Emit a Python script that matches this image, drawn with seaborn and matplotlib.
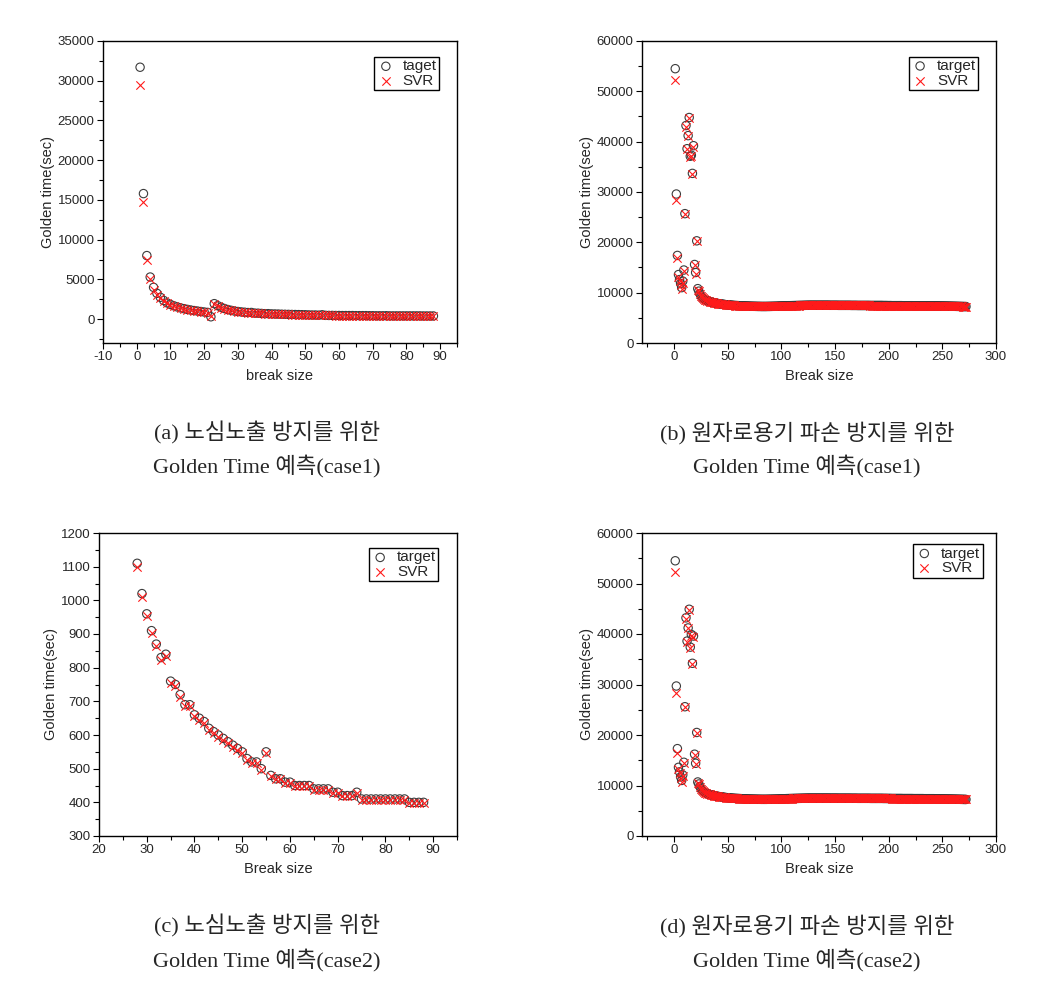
import matplotlib
matplotlib.use("Agg")
import numpy as np
import pandas as pd
import matplotlib.pyplot as plt
import seaborn as sns
from matplotlib.ticker import MultipleLocator

# ---- panel (c): case2, break sizes 28..88 (also the tail of panel (a)) ----
c_break = list(range(28, 89))
c_target = [1110, 1020, 960, 910, 870, 830, 840, 760, 750, 720,
            690, 690, 660, 650, 640, 620, 610, 600, 590, 580,
            570, 560, 550, 530, 520, 520, 500, 550, 480, 470,
            470, 460, 460, 450, 450, 450, 450, 440, 440, 440,
            440, 430, 430, 420, 420, 420, 430, 410, 410, 410,
            410, 410, 410, 410, 410, 410, 410, 400, 400, 400, 400]
c_svr = [1100, 1010, 952, 903, 864, 824, 834, 754, 745, 714,
         685, 685, 655, 645, 635, 615, 605, 595, 585, 575,
         565, 556, 546, 526, 517, 517, 497, 548, 477, 468,
         468, 458, 458, 448, 448, 448, 448, 438, 438, 438,
         438, 428, 428, 418, 418, 418, 428, 408, 408, 408,
         408, 408, 408, 408, 408, 408, 408, 398, 398, 398, 398]

# ---- panel (a): case1, break sizes 1..27, then same points as panel (c) ----
a_break_head = list(range(1, 28))
a_target_head = [31700, 15800, 8000, 5300, 4000, 3250, 2750, 2350, 2050, 1850,
                 1680, 1540, 1420, 1320, 1230, 1150, 1080, 1020, 960, 900,
                 850, 300, 1950, 1700, 1500, 1340, 1210]
a_svr_head = [29500, 14700, 7400, 5000, 3700, 3050, 2600, 2250, 1980, 1780,
              1620, 1490, 1380, 1280, 1190, 1120, 1050, 990, 930, 880,
              830, 420, 1900, 1650, 1460, 1310, 1180]

# ---- panel (b) / (d): reactor vessel, break sizes 1..272 ----
bd_break = list(range(1, 273))
b_target_head = [54500, 29600, 17400, 13600, 12600, 11800, 11000, 12300, 14500, 25700,
                 43200, 38600, 41200, 44800, 37100, 37300, 33700, 39200, 15600, 14000,
                 20300, 10800]
b_svr_head = [52300, 28500, 16800, 13200, 12300, 11500, 10700, 12000, 14300, 25600,
              43000, 38500, 41100, 44700, 37000, 37100, 33600, 39000, 15400, 13800,
              20200, 10600]
d_target_head = [54500, 29700, 17300, 13600, 12700, 11700, 11000, 12100, 14600, 25600,
                 43200, 38600, 41200, 44900, 37400, 39900, 34200, 39600, 16200, 14400,
                 20500, 10700]
d_svr_head = [52300, 28300, 16500, 13200, 12400, 11400, 10700, 11800, 14400, 25500,
              43000, 38500, 41100, 44800, 37300, 39700, 34100, 39400, 16000, 14200,
              20400, 10500]
# break sizes 23..272 -- the dense band, target and SVR coincide at this scale
bd_tail = [10300, 9800, 9350, 9050, 8850, 8680, 8550, 8450, 8370, 8300,
           8230, 8170, 8110, 8060, 8010, 7960, 7920, 7880, 7840, 7800,
           7770, 7740, 7710, 7680, 7650, 7620, 7600, 7580, 7560, 7540,
           7520, 7500, 7480, 7460, 7450, 7440, 7430, 7420, 7410, 7400,
           7390, 7380, 7370, 7360, 7350, 7340, 7330, 7320, 7310, 7300,
           7300, 7290, 7290, 7280, 7280, 7270, 7270, 7270, 7260, 7260,
           7260, 7260, 7260, 7260, 7270, 7270, 7270, 7280, 7280, 7290,
           7290, 7300, 7300, 7310, 7320, 7330, 7340, 7350, 7360, 7370,
           7380, 7390, 7400, 7400, 7410, 7410, 7420, 7420, 7430, 7430,
           7440, 7440, 7450, 7450, 7460, 7460, 7470, 7470, 7480, 7480,
           7490, 7490, 7500, 7500, 7500, 7500, 7500, 7500, 7500, 7500,
           7500, 7500, 7500, 7500, 7500, 7500, 7500, 7500, 7500, 7500,
           7500, 7500, 7490, 7490, 7490, 7490, 7490, 7490, 7490, 7490,
           7480, 7480, 7480, 7480, 7480, 7480, 7480, 7480, 7480, 7480,
           7480, 7480, 7470, 7470, 7470, 7470, 7470, 7470, 7460, 7460,
           7460, 7460, 7460, 7460, 7460, 7460, 7460, 7460, 7460, 7460,
           7450, 7450, 7450, 7450, 7450, 7450, 7450, 7450, 7450, 7450,
           7450, 7450, 7440, 7440, 7440, 7440, 7430, 7430, 7430, 7430,
           7420, 7420, 7420, 7420, 7420, 7420, 7420, 7420, 7420, 7420,
           7410, 7410, 7410, 7410, 7410, 7410, 7410, 7410, 7410, 7410,
           7400, 7400, 7400, 7400, 7400, 7400, 7400, 7400, 7400, 7400,
           7390, 7390, 7390, 7390, 7390, 7390, 7390, 7390, 7390, 7390,
           7380, 7380, 7370, 7370, 7360, 7360, 7350, 7350, 7340, 7340,
           7330, 7330, 7320, 7320, 7310, 7310, 7300, 7300, 7290, 7290,
           7280, 7280, 7270, 7270, 7260, 7260, 7250, 7250, 7240, 7240]

captions = [
    ("(a) 노심노출 방지를 위한", "Golden Time 예측(case1)"),
    ("(b) 원자로용기 파손 방지를 위한", "Golden Time 예측(case1)"),
    ("(c) 노심노출 방지를 위한", "Golden Time 예측(case2)"),
    ("(d) 원자로용기 파손 방지를 위한", "Golden Time 예측(case2)"),
]

df_a = pd.DataFrame({"brk": a_break_head + c_break,
                     "target": a_target_head + c_target,
                     "svr": a_svr_head + c_svr})
df_b = pd.DataFrame({"brk": bd_break, "target": b_target_head + bd_tail,
                     "svr": b_svr_head + bd_tail})
df_c = pd.DataFrame({"brk": c_break, "target": c_target, "svr": c_svr})
df_d = pd.DataFrame({"brk": bd_break, "target": d_target_head + bd_tail,
                     "svr": d_svr_head + bd_tail})

sns.set_style("ticks")
plt.rcParams["font.family"] = ["Liberation Sans", "DejaVu Sans"]
plt.rcParams["axes.unicode_minus"] = False

fig = plt.figure(figsize=(10.52, 9.9), dpi=100)

W, H = 1052, 990
def px_axes(l, t, r, b):
    return fig.add_axes([l / W, 1 - b / H, (r - l) / W, (b - t) / H])


def draw_panel(ax, df, xlabel, tgt_label, xlim, ylim, xt, yt, anchor):
    sns.scatterplot(data=df, x="brk", y="target", ax=ax, marker="o", s=36,
                    facecolor="none", edgecolor="#3c3c3c", linewidth=0.8,
                    label=tgt_label, zorder=2)
    sns.scatterplot(data=df, x="brk", y="svr", ax=ax, marker="x", s=36,
                    color="#ff1a1a", linewidth=0.8, label="SVR", zorder=3)
    ax.set_xlim(*xlim)
    ax.set_ylim(*ylim)
    ax.xaxis.set_major_locator(MultipleLocator(xt))
    ax.xaxis.set_minor_locator(MultipleLocator(xt / 2))
    ax.yaxis.set_major_locator(MultipleLocator(yt))
    ax.yaxis.set_minor_locator(MultipleLocator(yt / 2))
    ax.tick_params(which="both", direction="out", top=False, right=False,
                   labelsize=9.5, width=0.8, color="black", pad=2)
    ax.tick_params(which="major", length=4)
    ax.tick_params(which="minor", length=3)
    for sp in ax.spines.values():
        sp.set_visible(True)
        sp.set_linewidth(1.0)
        sp.set_color("black")
    ax.set_xlabel(xlabel, fontsize=10.5, labelpad=4)
    ax.set_ylabel("Golden time(sec)", fontsize=10.5, labelpad=2)
    leg = ax.legend(loc="upper right", bbox_to_anchor=anchor, frameon=True,
                    fancybox=False, edgecolor="black", framealpha=1,
                    fontsize=11, handletextpad=0.5, labelspacing=0.05,
                    borderpad=0.15, borderaxespad=0, handlelength=1.2)
    leg.get_frame().set_linewidth(1.0)


ax_a = px_axes(103, 41, 457, 343)
draw_panel(ax_a, df_a, "break size", "taget", (-10, 95), (-3000, 35000), 10, 5000, (0.949, 0.947))
ax_b = px_axes(642, 41, 996, 343)
draw_panel(ax_b, df_b, "Break size", "target", (-30, 300), (0, 60000), 50, 10000, (0.950, 0.948))
ax_c = px_axes(99, 533, 457, 836)
draw_panel(ax_c, df_c, "Break size", "target", (20, 95), (300, 1200), 10, 100, (0.948, 0.950))
ax_d = px_axes(642, 533, 996, 836)
draw_panel(ax_d, df_d, "Break size", "target", (-30, 300), (0, 60000), 50, 10000, (0.962, 0.963))

cap_font = ["Liberation Serif", "Noto Sans CJK KR"]
cap_pos = [(267, 433, 466), (807, 433, 466), (267, 926, 960), (807, 926, 960)]
for (l1, l2), (cx, y1, y2) in zip(captions, cap_pos):
    fig.text(cx / W, 1 - y1 / H, l1, ha="center", va="center", fontsize=16, family=cap_font)
    fig.text(cx / W, 1 - y2 / H, l2, ha="center", va="center", fontsize=16, family=cap_font)

fig.savefig("out.png", dpi=100)
